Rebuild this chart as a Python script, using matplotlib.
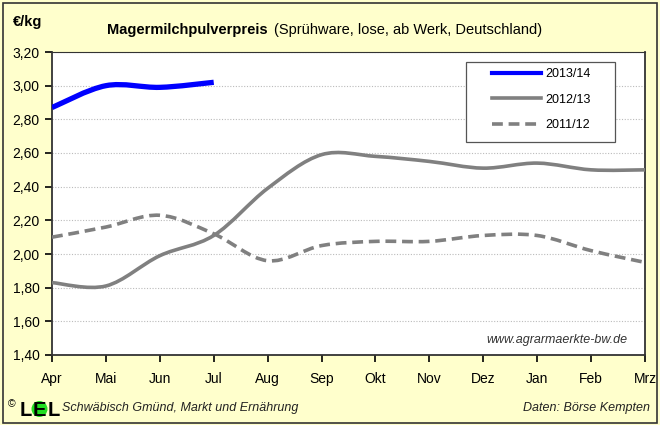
import numpy as np
import matplotlib.pyplot as plt
from matplotlib.path import Path
from matplotlib.patches import PathPatch, Rectangle, Ellipse
from matplotlib.lines import Line2D

plt.rcParams['font.family'] = ['Liberation Sans', 'DejaVu Sans']

# DATA
months = ['Apr', 'Mai', 'Jun', 'Jul', 'Aug', 'Sep', 'Okt', 'Nov', 'Dez', 'Jan', 'Feb', 'Mrz']
price_2013_14 = [2.87, 3.00, 2.99, 3.02]
price_2012_13 = [1.83, 1.81, 1.99, 2.11, 2.39, 2.59, 2.58, 2.55, 2.51, 2.54, 2.50, 2.50]
price_2011_12 = [2.10, 2.16, 2.23, 2.12, 1.96, 2.05, 2.075, 2.075, 2.11, 2.11, 2.02, 1.95]
y_ticks = [1.40, 1.60, 1.80, 2.00, 2.20, 2.40, 2.60, 2.80, 3.00, 3.20]

BG = '#FFFFCC'
GRAY = '#808080'
W, H = 660, 425


def smooth_path(xs, ys):
    # Excel-like smoothed line: cubic bezier segments through the points
    pts = np.column_stack([xs, ys]).astype(float)
    n = len(pts)
    verts = [pts[0]]
    codes = [Path.MOVETO]
    for i in range(n - 1):
        p0 = pts[i - 1] if i > 0 else pts[i]
        p1 = pts[i]
        p2 = pts[i + 1]
        p3 = pts[i + 2] if i + 2 < n else pts[i + 1]
        c1 = p1 + (p2 - p0) / 6.0
        c2 = p2 - (p3 - p1) / 6.0
        verts += [c1, c2, p2]
        codes += [Path.CURVE4] * 3
    return Path(verts, codes)


def fx(px):
    return px / W


def fy(py):
    return 1 - py / H


fig = plt.figure(figsize=(6.6, 4.25), dpi=100, facecolor=BG)
fig.patches.append(Rectangle((0.004, 0.004), 0.992, 0.99, transform=fig.transFigure,
                             fill=False, edgecolor='#333333', linewidth=1.2))

ax = fig.add_axes([fx(52), fy(355), fx(645) - fx(52), fy(52) - fy(355)])
ax.set_facecolor('white')

x = np.arange(len(months))
series = [
    (price_2013_14, 'blue', 3.8, '-', '2013/14'),
    (price_2012_13, GRAY, 2.6, '-', '2012/13'),
    (price_2011_12, GRAY, 2.6, (0, (3, 1.6)), '2011/12'),
]
handles = []
for vals, col, lw, ls, lab in series:
    p = smooth_path(x[:len(vals)], vals)
    ax.add_patch(PathPatch(p, fill=False, edgecolor=col, linewidth=lw, linestyle=ls,
                           capstyle='butt', zorder=3))
    handles.append(Line2D([], [], color=col, linewidth=min(lw, 3.0), linestyle=ls,
                          label=lab))

ax.set_xlim(0, 11)
ax.set_ylim(1.40, 3.20)
ax.set_xticks(x)
ax.set_xticklabels(months, fontsize=10)
ax.set_yticks(y_ticks)
ax.set_yticklabels([f'{v:.2f}'.replace('.', ',') for v in y_ticks], fontsize=10)
ax.yaxis.grid(True, linestyle=(0, (1, 1.5)), color='#BBBBBB', linewidth=0.8)
ax.tick_params(axis='both', direction='out', length=5, width=1.2, color='black')
ax.tick_params(axis='x', pad=7)
ax.tick_params(axis='y', pad=4)
for side in ['left', 'bottom', 'right', 'top']:
    ax.spines[side].set_color('#333333')
    ax.spines[side].set_linewidth(1.3)
ax.spines['top'].set_linewidth(0.8)

# legend: frame drawn as a box, entries placed inside it
ax.add_patch(Rectangle((0.698, 0.703), 0.251, 0.264, transform=ax.transAxes,
                       facecolor='white', edgecolor='#555555', linewidth=0.9, zorder=4))
leg = ax.legend(handles=handles, loc='upper left', bbox_to_anchor=(0.742, 0.946),
                fontsize=9, frameon=False, handlelength=3.9, handletextpad=0.35,
                labelspacing=1.08, borderpad=0, borderaxespad=0)
leg.set_zorder(5)

ax.text(0.971, 0.05, 'www.agrarmaerkte-bw.de', transform=ax.transAxes, ha='right',
        va='center', fontsize=9, style='italic', color='#333333')

# header
fig.text(fx(13), fy(22), '€/kg', fontsize=10.5, fontweight='bold', va='center')
t1 = fig.text(fx(107), fy(30), 'Magermilchpulverpreis', fontsize=10.5, fontweight='bold',
              va='center')
fig.canvas.draw()
bb = t1.get_window_extent()
fig.text((bb.x1 + 6) / W, fy(30), '(Sprühware, lose, ab Werk, Deutschland)',
         fontsize=10.5, va='center')

# footer
base = fy(416)
fig.text(fx(8), fy(404), '©', fontsize=7.5, va='center')
fig.patches.append(Ellipse((fx(39.5), fy(409)), 16 / W, 16 / H, transform=fig.transFigure,
                           facecolor='#22DD22', edgecolor='none'))
fig.text(fx(25.5), base, 'L', fontsize=14.5, fontweight='bold', ha='center', va='baseline')
fig.text(fx(39.5), base, 'E', fontsize=14.5, fontweight='bold', ha='center', va='baseline')
fig.text(fx(53.5), base, 'L', fontsize=14.5, fontweight='bold', ha='center', va='baseline')
fig.text(fx(62), fy(408), 'Schwäbisch Gmünd, Markt und Ernährung', fontsize=9,
         style='italic', va='center', color='#222222')
fig.text(fx(650), fy(408), 'Daten: Börse Kempten', fontsize=9, style='italic',
         ha='right', va='center', color='#222222')

fig.savefig('out.png', dpi=100, facecolor=BG)
